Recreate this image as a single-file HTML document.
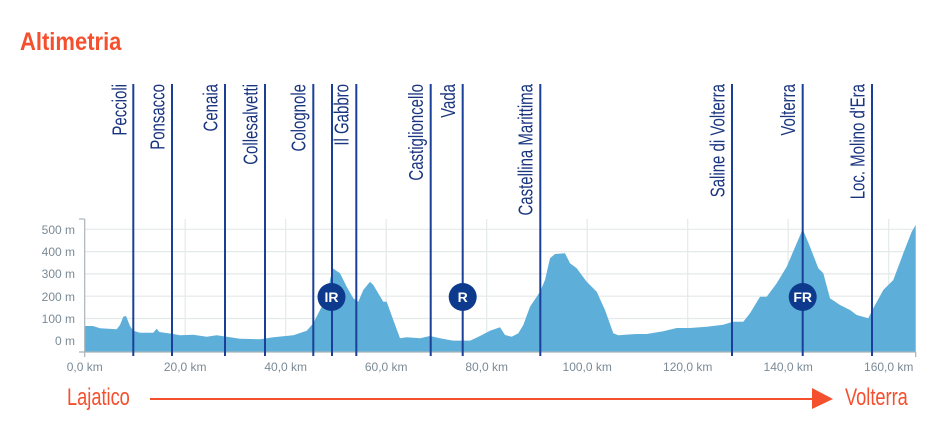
<!DOCTYPE html>
<html><head><meta charset="utf-8"><style>
body{margin:0;background:#fff;width:941px;height:443px;overflow:hidden}
</style></head><body>
<svg width="941" height="443" viewBox="0 0 941 443" xmlns="http://www.w3.org/2000/svg" font-family="Liberation Sans, sans-serif">
<text font-size="25" font-weight="bold" fill="#f4502e" transform="translate(20 50) scale(0.88 1)">Altimetria</text>
<g stroke="#e4e9ea" stroke-width="1.2">
<line x1="85" y1="229.3" x2="915" y2="229.3"/><line x1="85" y1="251.6" x2="915" y2="251.6"/>
<line x1="85" y1="273.9" x2="915" y2="273.9"/><line x1="85" y1="296.2" x2="915" y2="296.2"/>
<line x1="85" y1="318.5" x2="915" y2="318.5"/><line x1="85" y1="340.8" x2="915" y2="340.8"/>
<line x1="185.2" y1="219" x2="185.2" y2="352"/><line x1="285.7" y1="219" x2="285.7" y2="352"/>
<line x1="386.2" y1="219" x2="386.2" y2="352"/><line x1="486.7" y1="219" x2="486.7" y2="352"/>
<line x1="587.2" y1="219" x2="587.2" y2="352"/><line x1="687.7" y1="219" x2="687.7" y2="352"/>
<line x1="788.2" y1="219" x2="788.2" y2="352"/><line x1="888.7" y1="219" x2="888.7" y2="352"/>
</g>
<polygon fill="#5daed9" points="84.7,352 84.7,326 93,326 100,328.3 116.7,329.3 120,325 123.3,316.7 126,316 130,326 133.3,330.7 140,332.7 153.3,332.7 156.7,328.7 159.3,332 173.3,334 180,335.3 193.3,334.7 206.7,336.7 216.7,335.3 226.7,336.7 240,338.7 260,339.3 273.3,337.3 293.3,335.3 306.7,330.7 313.3,323.3 320,310 326.7,296.7 330,280 332.7,268.3 340,273.3 346.7,286.7 353.3,298.3 358.3,301.7 363.3,290 370,281.7 373.3,285 383.3,301.7 386.7,301.7 393.3,320 400,338.3 406.7,337.3 420,338.3 430,336 440,338.3 453.3,340.7 470,340.7 480,336 490,330.7 500,327.3 505,335 511.7,336.7 518.3,333.3 523.3,325 530,306.7 540,291.7 545,280 550,258.3 555,254 565,253.3 570,263.3 576.7,268.3 586.7,281.7 596.7,291.7 605,310 613.3,333.3 618.3,335.3 636.7,334 646.7,334 663.3,331.3 676.7,328 690,328 706.7,326.7 723.3,324.7 732.7,321.7 743.3,321.7 750,313.3 760,296.7 766.7,296.7 776.7,283.3 786.7,266.7 796.7,243.3 802.7,229.3 810,246.7 818.3,268.3 823.3,273.3 830,298.3 840,305 850,310 856.7,315 868.3,318.3 873.3,308.3 883.3,290 893.3,280 903.3,253.3 911.7,231.7 915.7,225 915.7,352"/>
<g stroke="#a9b4ba" stroke-width="1.2" fill="none">
<line x1="84.7" y1="219" x2="84.7" y2="357"/><line x1="79" y1="219" x2="84.7" y2="219"/>
<line x1="79" y1="352" x2="916" y2="352"/><line x1="915.7" y1="352" x2="915.7" y2="357"/>
</g>
<g font-size="12" fill="#7a8a96" text-anchor="end">
<text x="75" y="234">500 m</text><text x="75" y="256">400 m</text><text x="75" y="278">300 m</text>
<text x="75" y="301">200 m</text><text x="75" y="323">100 m</text><text x="75" y="345">0 m</text>
</g>
<g font-size="12" fill="#7a8a96" text-anchor="middle">
<text x="84.7" y="371">0,0 km</text><text x="185.2" y="371">20,0 km</text><text x="285.7" y="371">40,0 km</text>
<text x="386.2" y="371">60,0 km</text><text x="486.7" y="371">80,0 km</text><text x="587.2" y="371">100,0 km</text>
<text x="687.7" y="371">120,0 km</text><text x="788.2" y="371">140,0 km</text><text x="888.7" y="371">160,0 km</text>
</g>
<g stroke="#1a3f99" stroke-width="2">
<line x1="133.3" y1="84" x2="133.3" y2="356"/><line x1="172" y1="84" x2="172" y2="356"/>
<line x1="225" y1="84" x2="225" y2="356"/><line x1="265" y1="84" x2="265" y2="356"/>
<line x1="313.3" y1="84" x2="313.3" y2="356"/><line x1="332" y1="84" x2="332" y2="356"/>
<line x1="356.3" y1="84" x2="356.3" y2="356"/><line x1="430.7" y1="84" x2="430.7" y2="356"/>
<line x1="462.7" y1="84" x2="462.7" y2="356"/><line x1="540.3" y1="84" x2="540.3" y2="356"/>
<line x1="732" y1="84" x2="732" y2="356"/><line x1="802.7" y1="84" x2="802.7" y2="356"/>
<line x1="872" y1="84" x2="872" y2="356"/>
</g>
<g font-size="20" fill="#1a3580" text-anchor="end">
<text transform="translate(126.5,84) rotate(-90) scale(0.75 1)">Peccioli</text>
<text transform="translate(164.5,84) rotate(-90) scale(0.75 1)">Ponsacco</text>
<text transform="translate(217.5,84) rotate(-90) scale(0.75 1)">Cenaia</text>
<text transform="translate(257.5,84) rotate(-90) scale(0.75 1)">Collesalvetti</text>
<text transform="translate(305.5,84) rotate(-90) scale(0.75 1)">Colognole</text>
<text transform="translate(348.5,84) rotate(-90) scale(0.75 1)">Il Gabbro</text>
<text transform="translate(423,84) rotate(-90) scale(0.75 1)">Castiglioncello</text>
<text transform="translate(455,84) rotate(-90) scale(0.75 1)">Vada</text>
<text transform="translate(532.5,84) rotate(-90) scale(0.75 1)">Castellina Marittima</text>
<text transform="translate(724.5,84) rotate(-90) scale(0.75 1)">Saline di Volterra</text>
<text transform="translate(795,84) rotate(-90) scale(0.75 1)">Volterra</text>
<text transform="translate(864.5,84) rotate(-90) scale(0.75 1)">Loc. Molino d'Era</text>
</g>
<g font-weight="bold" font-size="14" fill="#fff" text-anchor="middle">
<circle cx="331.5" cy="297" r="14" fill="#0d3a8c"/><text x="331.5" y="302">IR</text>
<circle cx="462.7" cy="297" r="14" fill="#0d3a8c"/><text x="462.7" y="302">R</text>
<circle cx="802.7" cy="297" r="14" fill="#0d3a8c"/><text x="802.7" y="302">FR</text>
</g>
<text font-size="24" fill="#f4502e" transform="translate(67 405) scale(0.76 1)">Lajatico</text>
<line x1="150" y1="399" x2="820" y2="399" stroke="#f4502e" stroke-width="2"/>
<polygon points="812,388 833,399 812,409" fill="#f4502e"/>
<text font-size="24" fill="#f4502e" transform="translate(845 405) scale(0.76 1)">Volterra</text>
</svg>
</body></html>
